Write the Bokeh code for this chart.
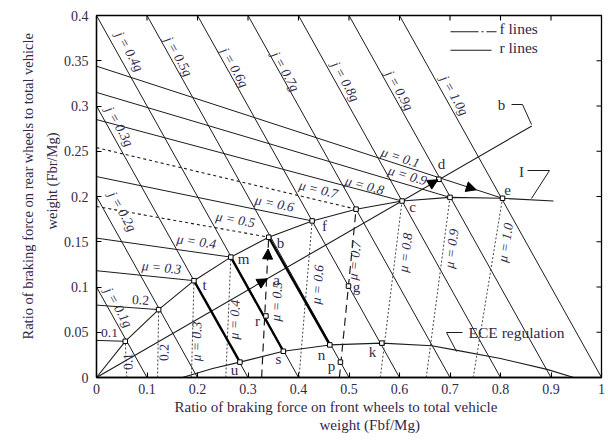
import math
from bokeh.plotting import figure
from bokeh.models import Label, Arrow, NormalHead, FixedTicker, Range1d, Title
from bokeh.embed import file_html
from bokeh.resources import INLINE

# ---------------- data ----------------
mu_vals = [0.1, 0.2, 0.3, 0.4, 0.5, 0.6, 0.7, 0.8, 0.9, 1.0]
j_vals = [0.1, 0.2, 0.3, 0.4, 0.5, 0.6, 0.7, 0.8, 0.9, 1.0]
# ideal braking force distribution curve (I curve)
ideal_x = [0.0, 0.057, 0.123, 0.193, 0.266, 0.341, 0.427, 0.514, 0.605, 0.700, 0.804, 0.905]
ideal_y = [0.0, 0.040, 0.075, 0.107, 0.133, 0.155, 0.173, 0.186, 0.195, 0.199, 0.198, 0.195]
# f lines: x-intercepts (front wheel lock lines), one per mu
f_x0 = [0.060, 0.121, 0.188, 0.256, 0.327, 0.401, 0.481, 0.562, 0.653, 0.746]
# r lines: y-intercepts (rear wheel lock lines), one per mu
r_y0 = [0.041, 0.080, 0.118, 0.154, 0.189, 0.222, 0.254, 0.285, 0.315, 0.344]
# actual braking force distribution line (b)
beta_x = [0.0, 0.862]
beta_y = [0.0, 0.278]
# ECE regulation curve
ece_x = [0.170, 0.230, 0.284, 0.370, 0.462, 0.565, 0.664, 0.714, 0.800, 0.892, 0.945]
ece_y = [0.000, 0.010, 0.017, 0.029, 0.036, 0.038, 0.035, 0.030, 0.021, 0.009, 0.000]
# named points
pt = {
    "t": (0.193, 0.107), "m": (0.266, 0.133), "b": (0.341, 0.155), "f": (0.427, 0.173),
    "c": (0.605, 0.195), "e": (0.804, 0.198), "d": (0.678, 0.219), "r": (0.3355, 0.068),
    "g": (0.499, 0.101), "u": (0.284, 0.017), "s": (0.370, 0.029), "n": (0.462, 0.036),
    "p": (0.483, 0.017), "k": (0.565, 0.038),
}
extra_markers = ["d", "r", "g", "u", "s", "n", "p", "k"]
bold_pairs = [("t", "u"), ("m", "s"), ("b", "n")]
# arrows (start x, start y, end x, end y)
arrow_x0 = [0.300, 0.3365, 0.630, 0.700]
arrow_y0 = [0.097, 0.105, 0.2035, 0.2169]
arrow_x1 = [0.338, 0.3398, 0.676, 0.752]
arrow_y1 = [0.109, 0.142, 0.2185, 0.2074]

x_ticks = [0, 0.1, 0.2, 0.3, 0.4, 0.5, 0.6, 0.7, 0.8, 0.9, 1]
x_tick_labels = ["0", "0.1", "0.2", "0.3", "0.4", "0.5", "0.6", "0.7", "0.8", "0.9", "1"]
y_ticks = [0, 0.05, 0.1, 0.15, 0.2, 0.25, 0.3, 0.35, 0.4]
y_tick_labels = ["0", "0.05", "0.1", "0.15", "0.2", "0.25", "0.3", "0.35", "0.4"]

r_label_text = ["0.1", "0.2", "μ = 0.3", "μ = 0.4", "μ = 0.5", "μ = 0.6", "μ = 0.7",
                "μ = 0.8", "μ = 0.9", "μ = 0.1"]
f_label_text = ["0.1", "0.2", "μ = 0.3", "μ = 0.4", "μ = 0.5", "μ = 0.6", "μ = 0.7",
                "μ = 0.8", "μ = 0.9", "μ = 1.0"]
j_label_text = ["j = 0.1g", "j = 0.2g", "j = 0.3g", "j = 0.4g", "j = 0.5g", "j = 0.6g",
                "j = 0.7g", "j = 0.8g", "j = 0.9g", "j = 1.0g"]

# ---------------- layout / style ----------------
SERIF = "Liberation Serif"
TXT = "#2f2a4a"
LC = "#1c1c1c"
X0, Y0 = 97.0, 378.0      # picture position of data origin
SX, SY = 505.0, 905.0     # px per data unit
TICK = 5.0


def d(px, py):
    return ((px - X0) / SX, (Y0 - py) / SY)


def pix_angle(x1, y1, x2, y2):
    return math.atan2((y2 - y1) * SY, (x2 - x1) * SX)


p = figure(frame_width=505, frame_height=362, x_range=Range1d(0, 1), y_range=Range1d(0, 0.4),
           output_backend="svg", toolbar_location=None,
           min_border_left=96, min_border_right=4, min_border_top=15, min_border_bottom=60)
p.grid.visible = False
p.background_fill_color = "white"
p.border_fill_color = "white"
p.outline_line_color = "black"
p.outline_line_width = 1.3

for ax in (p.xaxis[0], p.yaxis[0]):
    ax.major_tick_in = 5
    ax.major_tick_out = 0
    ax.minor_tick_in = 0
    ax.minor_tick_out = 0
    ax.axis_line_width = 1.3
    ax.major_tick_line_width = 1.1
    ax.major_label_text_font = SERIF
    ax.major_label_text_font_size = "14px"
    ax.major_label_text_color = TXT
p.xaxis[0].ticker = FixedTicker(ticks=x_ticks)
p.xaxis[0].major_label_overrides = dict(zip(x_ticks, x_tick_labels))
p.xaxis[0].major_label_standoff = 6
p.yaxis[0].ticker = FixedTicker(ticks=y_ticks)
p.yaxis[0].major_label_overrides = dict(zip(y_ticks, y_tick_labels))
p.yaxis[0].major_label_standoff = 8

# inward ticks on the top and right edges of the box
p.segment(x0=x_ticks, y0=[0.4] * len(x_ticks), x1=x_ticks,
          y1=[0.4 - TICK / SY] * len(x_ticks), line_color="black", line_width=1.1)
p.segment(x0=[1.0] * len(y_ticks), y0=y_ticks, x1=[1.0 - TICK / SX] * len(y_ticks),
          y1=y_ticks, line_color="black", line_width=1.1)

# axis titles (two lines each)
p.add_layout(Title(text="Ratio of braking force on front wheels to total vehicle",
                   align="left", offset=78, standoff=0, text_font=SERIF,
                   text_font_size="15px", text_font_style="normal", text_color=TXT), "below")
p.add_layout(Title(text="weight (Fbf/Mg)", align="left", offset=223, standoff=0,
                   text_font=SERIF, text_font_size="15px", text_font_style="normal",
                   text_color=TXT), "below")
p.add_layout(Title(text="weight (Fbr/Mg)", align="left", offset=148, standoff=2,
                   text_font=SERIF, text_font_size="14.5px", text_font_style="normal",
                   text_color=TXT), "left")
p.add_layout(Title(text="Ratio of braking force on rear wheels to total vehicle",
                   align="left", offset=38, standoff=9, text_font=SERIF,
                   text_font_size="14.5px", text_font_style="normal", text_color=TXT), "left")

# ---------------- lines ----------------
# constant deceleration lines x + y = j
jx, jy = [], []
for j in j_vals:
    xs = max(0.0, j - 0.4)
    jx.append([xs, j])
    jy.append([j - xs, 0.0])
p.multi_line(jx, jy, line_color=LC, line_width=1)

# f lines
for i, mu in enumerate(mu_vals):
    xe, ye = ideal_x[i + 1], ideal_y[i + 1]
    if mu in (0.5, 0.7):
        p.line([f_x0[i], xe], [0, ye], line_color=LC, line_width=1.2, line_dash="8 5")
    else:
        p.line([f_x0[i], xe], [0, ye], line_color="#444444", line_width=1, line_dash="2 2")

# r lines
for i, mu in enumerate(mu_vals):
    xe, ye = ideal_x[i + 1], ideal_y[i + 1]
    if mu in (0.5, 0.7):
        p.line([0, xe], [r_y0[i], ye], line_color=LC, line_width=1.1, line_dash="3 3")
    else:
        p.line([0, xe], [r_y0[i], ye], line_color=LC, line_width=1)

# I curve, b line, ECE curve
p.line(ideal_x, ideal_y, line_color=LC, line_width=1.1)
p.line(beta_x, beta_y, line_color=LC, line_width=1.1)
p.line(ece_x, ece_y, line_color=LC, line_width=1.1)

# bold segments along deceleration lines
for a, b in bold_pairs:
    p.line([pt[a][0], pt[b][0]], [pt[a][1], pt[b][1]], line_color="black", line_width=2.4)

# markers
mx = ideal_x[1:11] + [pt[k][0] for k in extra_markers]
my = ideal_y[1:11] + [pt[k][1] for k in extra_markers]
p.scatter(mx, my, marker="square", size=4.5, fill_color="white", line_color="black", line_width=1)

# arrows
for x0, y0, x1, y1 in zip(arrow_x0, arrow_y0, arrow_x1, arrow_y1):
    p.add_layout(Arrow(end=NormalHead(size=10, fill_color="black", line_color="black"),
                       x_start=x0, y_start=y0, x_end=x1, y_end=y1, line_alpha=0))


# ---------------- texts ----------------
def lab(text, px, py, size=14, style="normal", angle=0.0, align="center",
        baseline="middle", xo=0.0, yo=0.0):
    x, y = d(px, py)
    p.add_layout(Label(x=x, y=y, text=text, text_font=SERIF, text_font_size=f"{size}px",
                       text_font_style=style, text_color=TXT, angle=angle,
                       angle_units="rad", text_align=align, text_baseline=baseline,
                       x_offset=xo, y_offset=yo))


r_label_px = [(110, 333), (141, 301), (162, 268), (197, 242), (236, 220), (275, 204),
              (319, 190), (365, 186), (408, 176), (401, 158)]
for i, (px, py) in enumerate(r_label_px):
    ang = pix_angle(0, r_y0[i], ideal_x[i + 1], ideal_y[i + 1])
    if i == 0:
        ang = 0.0
    st = "normal" if i < 2 else "italic"
    lab(r_label_text[i], px, py, size=13.5, style=st, angle=ang)

f_label_px = [(129, 362), (165, 353), (197, 342), (235, 320), (277, 302), (318, 285),
              (355, 261), (406, 253), (452, 249), (506, 243)]
for i, (px, py) in enumerate(f_label_px):
    ang = pix_angle(f_x0[i], 0, ideal_x[i + 1], ideal_y[i + 1])
    st = "normal" if i < 2 else "italic"
    lab(f_label_text[i], px, py, size=13.5, style=st, angle=ang)

j_label_px = [(119, 308), (123, 212), (120, 127), (130, 52), (179, 57), (235, 68),
              (286, 72), (346, 82), (400, 91), (455, 96)]
j_ang = pix_angle(0, 1, 1, 0)
for i, (px, py) in enumerate(j_label_px):
    lab(j_label_text[i], px, py, size=13.5, style="italic", angle=j_ang)

point_label_px = {
    "t": (205, 285), "m": (244, 259), "b": (281, 243), "f": (325, 226), "a": (277, 280),
    "r": (258, 321), "s": (279, 359), "n": (322, 355), "p": (332, 366), "u": (235, 370),
    "g": (357, 287), "k": (373, 352), "c": (413, 207), "d": (442, 164), "e": (508, 190),
}
for name, (px, py) in point_label_px.items():
    lab(name, px, py, size=15)

lab("b", 502, 105, size=15)
lab("I", 522, 172, size=15)
lab("ECE regulation", 517, 333, size=15.5)

# callout leaders
callouts = [
    [(512, 105), (523, 105), (532, 125)],
    [(528, 171), (550, 171), (532, 199)],
    [(463, 333), (447, 333), (457, 352)],
]
for cl in callouts:
    pts = [d(a, b) for a, b in cl]
    p.line([q[0] for q in pts], [q[1] for q in pts], line_color=LC, line_width=1)

# legend
lf = [d(451, 32.3), d(497, 32.3)]
lr = [d(451, 50.7), d(492, 50.7)]
p.line([lf[0][0], lf[1][0]], [lf[0][1], lf[1][1]], line_color=LC, line_width=1.1,
       line_dash="28 3 2 3 10")
p.line([lr[0][0], lr[1][0]], [lr[0][1], lr[1][1]], line_color=LC, line_width=1.1)
lab("f lines", 500, 29, size=15.5, align="left")
lab("r lines", 500, 48, size=15.5, align="left")

open("out.html", "w").write(file_html(p, INLINE))
